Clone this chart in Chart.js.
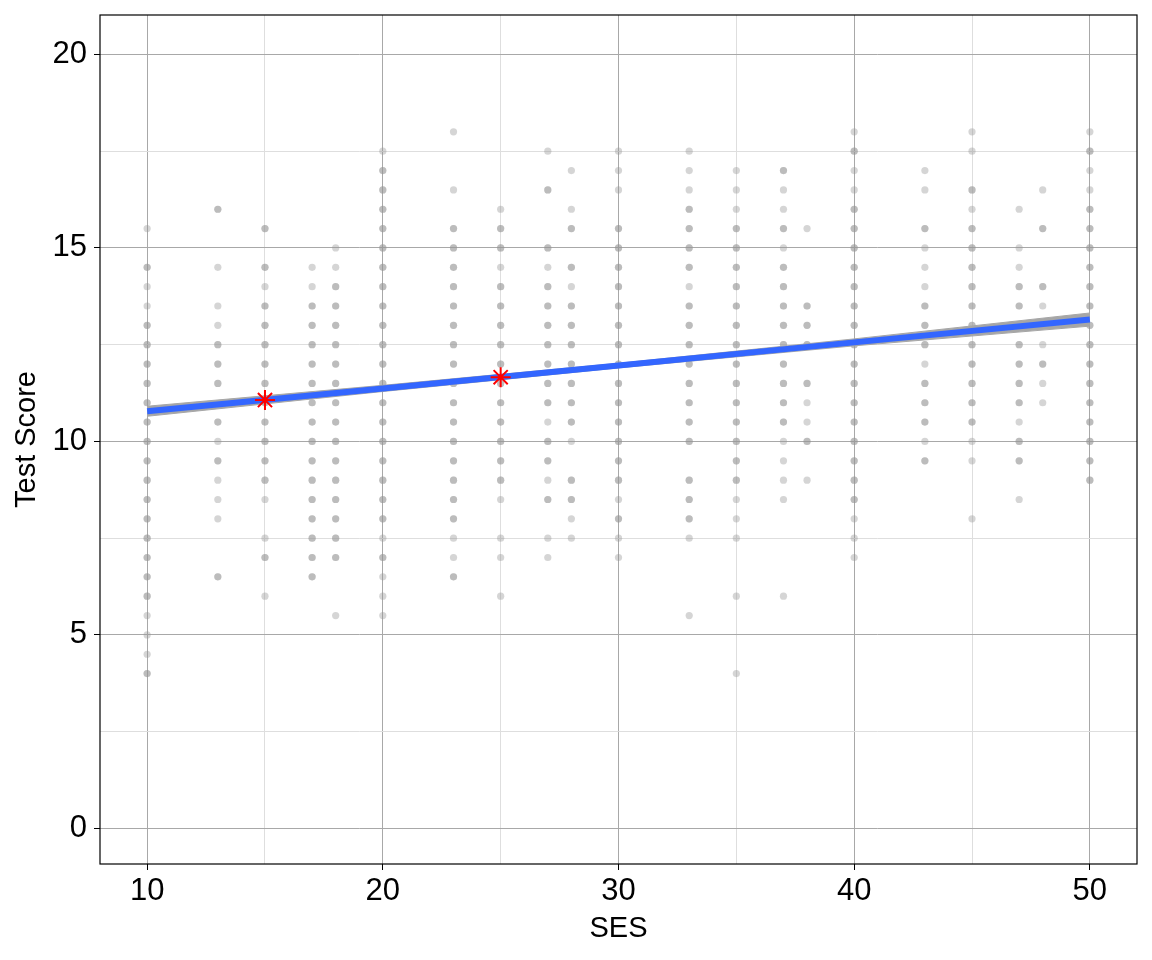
<!DOCTYPE html>
<html>
<head>
<meta charset="utf-8">
<script src="https://cdn.jsdelivr.net/npm/chart.js@4.4.0/dist/chart.umd.min.js"></script>
<style>
  body { margin: 0; background: #fff; }
  #wrap { width: 1152px; height: 960px; }
</style>
</head>
<body>
<div id="wrap"><canvas id="myChart" width="1152" height="960"></canvas></div>
<script>
// SES levels present in the sample
const sesLevels = [10, 13, 15, 17, 18, 20, 23, 25, 27, 28, 30, 33, 35, 37, 38, 40, 43, 45, 47, 48, 50];

// test scores per SES level.
// darker dots are overlapping observations, so they appear twice
const scoreColumns = [
  [15.5, 14.5, 14.5, 14, 13.5, 13, 13, 12.5, 12.5, 12, 12, 11.5, 11.5, 11, 11, 10.5, 10.5, 10, 10, 9.5, 9.5, 9, 9, 8.5, 8.5, 8, 8, 7.5, 7.5, 7, 7, 6.5, 6.5, 6, 6, 5.5, 5, 4.5, 4, 4],
  [16, 16, 14.5, 13.5, 13, 12.5, 12.5, 12, 12, 11.5, 11.5, 10.5, 10.5, 10, 9.5, 9.5, 9, 8.5, 8, 6.5, 6.5],
  [15.5, 15.5, 14.5, 14.5, 14, 13.5, 13.5, 13, 13, 12.5, 12.5, 12, 12, 11.5, 11.5, 11, 11, 10.5, 10.5, 10, 10, 9.5, 9.5, 9, 9, 8.5, 7.5, 7, 7, 6],
  [14.5, 14, 13.5, 13.5, 13, 13, 12.5, 12.5, 12, 12, 11.5, 11.5, 11, 11, 10.5, 10.5, 10, 10, 9.5, 9.5, 9, 9, 8.5, 8.5, 8, 8, 7.5, 7.5, 7, 7, 6.5, 6.5],
  [15, 14.5, 14, 14, 13.5, 13.5, 13, 13, 12.5, 12.5, 12, 12, 11.5, 11.5, 11, 11, 10.5, 10.5, 10, 10, 9.5, 9.5, 9, 9, 8.5, 8.5, 8, 8, 7.5, 7.5, 7, 7, 5.5],
  [17.5, 17, 17, 16.5, 16.5, 16, 16, 15.5, 15.5, 15, 15, 14.5, 14.5, 14, 14, 13.5, 13.5, 13, 13, 12.5, 12.5, 12, 12, 11.5, 11.5, 11, 11, 10.5, 10.5, 10, 10, 9.5, 9.5, 9, 9, 8.5, 8.5, 8, 8, 7.5, 7, 7, 6.5, 6, 5.5],
  [18, 16.5, 15.5, 15.5, 15, 15, 14.5, 14.5, 14, 14, 13.5, 13.5, 13, 13, 12.5, 12.5, 12, 12, 11.5, 11.5, 11, 11, 10.5, 10.5, 10, 10, 9.5, 9.5, 9, 9, 8.5, 8.5, 8, 8, 7.5, 7, 6.5, 6.5],
  [16, 15.5, 15.5, 15, 15, 14.5, 14, 14, 13.5, 13.5, 13, 13, 12.5, 12.5, 12, 12, 11.5, 11.5, 11, 11, 10.5, 10.5, 10, 10, 9.5, 9.5, 9, 9, 8.5, 7.5, 7, 6],
  [17.5, 16.5, 16.5, 15, 15, 14.5, 14, 14, 13.5, 13.5, 13, 13, 12.5, 12.5, 12, 12, 11.5, 11.5, 11, 11, 10.5, 10, 10, 9.5, 9.5, 9, 8.5, 8.5, 7.5, 7],
  [17, 16, 15.5, 15.5, 14.5, 14.5, 14, 13.5, 13.5, 13, 13, 12.5, 12.5, 12, 12, 11.5, 11.5, 11, 11, 10.5, 10.5, 10, 9, 9, 8.5, 8.5, 8, 7.5],
  [17.5, 17, 16.5, 15.5, 15.5, 15, 15, 14.5, 14.5, 14, 14, 13.5, 13.5, 13, 13, 12.5, 12.5, 12, 12, 11.5, 11.5, 11, 11, 10.5, 10.5, 10, 10, 9.5, 9.5, 9, 9, 8.5, 8, 8, 7.5, 7],
  [17.5, 17, 16.5, 16, 16, 15.5, 15.5, 15, 15, 14.5, 14.5, 14, 13.5, 13.5, 13, 13, 12.5, 12.5, 12, 12, 11.5, 11.5, 11, 11, 10.5, 10.5, 10, 10, 9, 9, 8.5, 8.5, 8, 8, 7.5, 5.5],
  [17, 16.5, 16, 15.5, 15.5, 15, 15, 14.5, 14.5, 14, 14, 13.5, 13.5, 13, 13, 12.5, 12.5, 12, 12, 11.5, 11.5, 11, 11, 10.5, 10.5, 10, 10, 9.5, 9.5, 9, 9, 8.5, 8, 7.5, 6, 4],
  [17, 17, 16.5, 16, 15.5, 15.5, 15, 14.5, 14.5, 14, 14, 13.5, 13.5, 13, 13, 12.5, 12.5, 12, 12, 11.5, 11.5, 11, 11, 10.5, 10.5, 10, 9.5, 9, 8.5, 6],
  [15.5, 13.5, 13.5, 13, 13, 12.5, 12.5, 11.5, 11.5, 11, 10.5, 10, 10, 9],
  [18, 17.5, 17.5, 17, 16.5, 16, 16, 15.5, 15.5, 15, 15, 14.5, 14.5, 14, 14, 13.5, 13.5, 13, 13, 12.5, 12.5, 12, 12, 11.5, 11.5, 11, 11, 10.5, 10.5, 10, 10, 9.5, 9.5, 9, 9, 8.5, 8.5, 8, 7.5, 7],
  [17, 16.5, 15.5, 15.5, 15, 14.5, 14, 13.5, 13.5, 13, 13, 12.5, 12.5, 12, 11.5, 11.5, 11, 11, 10.5, 10.5, 10, 9.5, 9.5],
  [18, 17.5, 16.5, 16.5, 16, 15.5, 15.5, 15, 15, 14.5, 14.5, 14, 14, 13.5, 13.5, 13, 13, 12.5, 12.5, 12, 12, 11.5, 11.5, 11, 11, 10.5, 10.5, 10, 9.5, 8],
  [16, 15, 14.5, 14, 14, 13.5, 13.5, 12.5, 12.5, 12, 12, 11.5, 11.5, 11, 11, 10.5, 10, 10, 9.5, 9.5, 8.5],
  [16.5, 15.5, 15.5, 14, 14, 13.5, 12.5, 12, 12, 11.5, 11],
  [18, 17.5, 17.5, 17, 16.5, 16, 16, 15.5, 15.5, 15, 15, 14.5, 14.5, 14, 14, 13.5, 13.5, 13, 13, 12.5, 12.5, 12, 12, 11.5, 11.5, 11, 11, 10.5, 10.5, 10, 10, 9.5, 9.5, 9, 9]
];

// fitted regression line and its confidence band
const fitSes = [10, 20, 30, 40, 50];
const fitScore = [10.78, 11.37, 11.96, 12.56, 13.15];
const ciLower = [10.65, 11.29, 11.90, 12.47, 12.98];
const ciUpper = [10.91, 11.45, 12.02, 12.65, 13.32];

// highlighted predictions
const markSes = [15, 25];
const markScore = [11.07, 11.66];

const xTicks = [10, 15, 20, 25, 30, 35, 40, 45, 50];
const yTicks = [0, 2.5, 5, 7.5, 10, 12.5, 15, 17.5, 20];

const FONT = '"Liberation Sans", Arial, Helvetica, sans-serif';

let scatterPts = [];
sesLevels.forEach((s, i) => {
  scoreColumns[i].forEach((v) => scatterPts.push({ x: s, y: v }));
});
const toPts = (xs, ys) => xs.map((x, i) => ({ x: x, y: ys[i] }));

const framePlugin = {
  id: 'frame',
  afterDraw(chart) {
    const a = chart.chartArea;
    const c = chart.ctx;
    c.save();
    c.strokeStyle = '#000';
    c.lineWidth = 1.2;
    c.strokeRect(a.left, a.top, a.right - a.left, a.bottom - a.top);
    c.restore();
  }
};

function gridColor(major) {
  return (ctx) => (ctx.tick && ctx.tick.value % major === 0) ? '#a8a8a8' : '#dedede';
}
function tickColor(major) {
  return (ctx) => (ctx.tick && ctx.tick.value % major === 0) ? '#000' : 'rgba(0,0,0,0)';
}

const ctx = document.getElementById('myChart');
const grafico = new Chart(ctx, {
  type: 'scatter',
  data: {
    datasets: [
      {
        label: 'marks',
        data: toPts(markSes, markScore),
        pointStyle: 'star',
        pointRadius: 10,
        borderColor: '#ff0000',
        backgroundColor: '#ff0000',
        borderWidth: 2,
        order: 0
      },
      {
        label: 'fit',
        type: 'line',
        data: toPts(fitSes, fitScore),
        borderColor: '#3366ff',
        borderWidth: 6,
        pointRadius: 0,
        fill: false,
        order: 1
      },
      {
        label: 'ci lower',
        type: 'line',
        data: toPts(fitSes, ciLower),
        borderColor: '#a6a6a6',
        borderWidth: 1,
        pointRadius: 0,
        fill: false,
        order: 2
      },
      {
        label: 'ci upper',
        type: 'line',
        data: toPts(fitSes, ciUpper),
        borderColor: '#a6a6a6',
        borderWidth: 1,
        backgroundColor: '#a6a6a6',
        pointRadius: 0,
        fill: 2,
        order: 2
      },
      {
        label: 'students',
        data: scatterPts,
        pointRadius: 3.6,
        borderWidth: 0,
        backgroundColor: 'rgba(150,150,150,0.4)',
        order: 3
      }
    ]
  },
  options: {
    responsive: false,
    animation: false,
    layout: { padding: { top: 15, right: 15, left: 0, bottom: 0 } },
    plugins: {
      legend: { display: false },
      tooltip: { enabled: false },
      filler: { propagate: false }
    },
    scales: {
      x: {
        type: 'linear',
        min: 8,
        max: 52,
        afterBuildTicks: (scale) => { scale.ticks = xTicks.map((v) => ({ value: v })); },
        afterFit: (scale) => { scale.height = 96; scale.paddingLeft = 0; scale.paddingRight = 0; },
        border: { display: false },
        grid: { color: gridColor(10), tickColor: tickColor(10), tickLength: 6, lineWidth: 1 },
        ticks: {
          autoSkip: false,
          maxRotation: 0,
          padding: 3,
          color: '#000',
          font: { family: FONT, size: 31 },
          callback: (v) => (v % 10 === 0 ? String(v) : '')
        },
        title: {
          display: true,
          text: 'SES',
          color: '#000',
          font: { family: FONT, size: 29 },
          padding: { top: 0, bottom: 14 }
        }
      },
      y: {
        type: 'linear',
        min: -0.92,
        max: 21.02,
        afterBuildTicks: (scale) => { scale.ticks = yTicks.map((v) => ({ value: v })); },
        afterFit: (scale) => { scale.width = 100; scale.paddingTop = 0; scale.paddingBottom = 0; },
        border: { display: false },
        grid: { color: gridColor(5), tickColor: tickColor(5), tickLength: 6, lineWidth: 1 },
        ticks: {
          autoSkip: false,
          padding: 7,
          color: '#000',
          font: { family: FONT, size: 31 },
          callback: (v) => (v % 5 === 0 ? String(v) : '')
        },
        title: {
          display: true,
          text: 'Test Score',
          color: '#000',
          font: { family: FONT, size: 29 },
          padding: { top: 10, bottom: 0 }
        }
      }
    }
  },
  plugins: [framePlugin]
});
</script>
</body>
</html>
